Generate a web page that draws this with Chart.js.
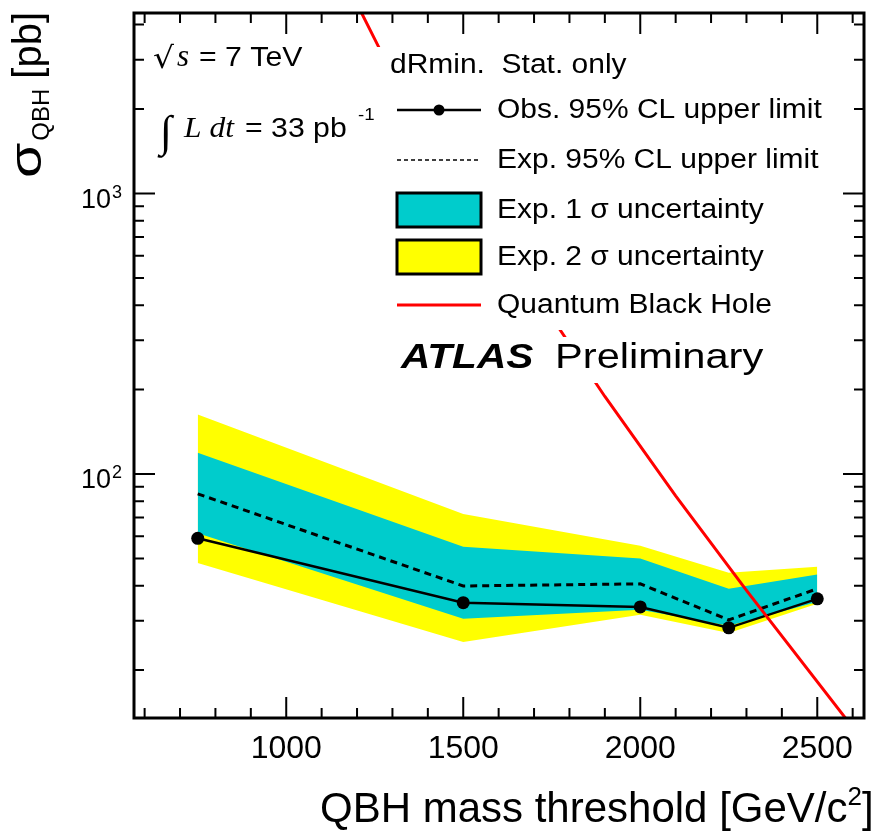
<!DOCTYPE html>
<html>
<head>
<meta charset="utf-8">
<script src="https://cdn.jsdelivr.net/npm/chart.js@4.4.1/dist/chart.umd.min.js"></script>
<style>
  html, body { margin: 0; padding: 0; background: #fff; overflow: hidden; }
</style>
</head>
<body>
<canvas id="qbhChart" width="884" height="835"></canvas>
<script>
// mass thresholds (GeV/c^2) and limits (pb)
const masses = [750, 1500, 2000, 2250, 2500];
const observed = [59, 34.8, 33.6, 28.3, 35.9];
const expected = [85, 39.9, 40.6, 30.2, 39.0];
const oneSigmaUp = [119, 55, 50, 39, 43.8];
const oneSigmaDown = [61.5, 30.5, 32.8, 28.8, 35.0];
const twoSigmaUp = [163, 72, 55.5, 44.5, 46.7];
const twoSigmaDown = [48.2, 25.2, 31.5, 27.1, 34.5];

// quantum black hole cross section
const qbhMass = [1200, 1262, 1400, 1600, 1900, 2100, 2300, 2600];
const qbhXsec = [4740, 3311, 1656, 692, 189, 83.6, 38.5, 12.5];

const xTickLabels = [1000, 1500, 2000, 2500];
const yDecadeLabels = [100, 1000];

const X_MIN = 570, X_MAX = 2632;
const Y_MIN = 13.5, Y_MAX = 4400;

const pts = ys => masses.map((m, i) => ({ x: m, y: ys[i] }));

const FONT = '"Liberation Sans", Arial, Helvetica, sans-serif';
const SERIF = '"Liberation Serif", "Times New Roman", serif';

// draws text stretched horizontally, returns drawn width
function txt(ctx, s, x, y, font, stretch = 1) {
    ctx.save();
    ctx.font = font;
    ctx.translate(x, y);
    ctx.scale(stretch, 1);
    ctx.fillText(s, 0, 0);
    const w = ctx.measureText(s).width * stretch;
    ctx.restore();
    return w;
}

const atlasDecor = {
    id: 'atlasDecor',
    afterDatasetsDraw(chart) {
        const { ctx, chartArea: a, scales: { x, y } } = chart;
        ctx.save();

        // legend and label backgrounds hide the theory curve
        ctx.fillStyle = '#fff';
        ctx.fillRect(372, 47, 470, 283);
        ctx.fillRect(395, 337, 380, 46);

        // ticks (inward, all four sides)
        ctx.strokeStyle = '#000';
        ctx.lineWidth = 2;
        ctx.beginPath();
        for (let v = 600; v <= X_MAX; v += 100) {
            const px = x.getPixelForValue(v);
            const len = v % 500 === 0 ? 21 : 10;
            ctx.moveTo(px, a.bottom); ctx.lineTo(px, a.bottom - len);
            ctx.moveTo(px, a.top); ctx.lineTo(px, a.top + len);
        }
        for (let dec = 10; dec <= 1000; dec *= 10) {
            for (let k = 1; k <= 9; k++) {
                const v = dec * k;
                if (v < Y_MIN || v > Y_MAX) continue;
                const py = y.getPixelForValue(v);
                const len = k === 1 ? 21 : 10;
                ctx.moveTo(a.left, py); ctx.lineTo(a.left + len, py);
                ctx.moveTo(a.right, py); ctx.lineTo(a.right - len, py);
            }
        }
        ctx.stroke();

        // frame
        ctx.lineWidth = 3;
        ctx.strokeRect(a.left, a.top, a.right - a.left, a.bottom - a.top);

        ctx.fillStyle = '#000';
        ctx.textBaseline = 'alphabetic';
        // x tick labels
        ctx.font = '32px ' + FONT;
        ctx.textAlign = 'center';
        xTickLabels.forEach(v => ctx.fillText(String(v), x.getPixelForValue(v), 758));

        // y tick labels 10^n
        yDecadeLabels.forEach(v => {
            const py = y.getPixelForValue(v);
            const exp = Math.round(Math.log10(v));
            ctx.font = '27px ' + FONT;
            ctx.textAlign = 'right';
            ctx.fillText('10', 111, py + 14);
            ctx.font = '18px ' + FONT;
            ctx.textAlign = 'left';
            ctx.fillText(String(exp), 112, py + 4);
        });
        ctx.textAlign = 'left';

        // x title
        let tx = 320;
        tx += txt(ctx, 'QBH mass threshold [GeV/c', tx, 822, '42px ' + FONT);
        tx += txt(ctx, '2', tx, 805, '26px ' + FONT);
        txt(ctx, ']', tx, 822, '42px ' + FONT);

        // y title
        ctx.save();
        ctx.translate(41, 178);
        ctx.rotate(-Math.PI / 2);
        let ty = txt(ctx, 'σ', 0, 0, '44px ' + FONT, 1.3);
        ty += txt(ctx, 'QBH', ty + 2, 8, '24px ' + FONT) + 12;
        txt(ctx, '[pb]', ty, 0, '40px ' + FONT);
        ctx.restore();

        // energy and luminosity
        txt(ctx, '√', 153, 68, '30px "DejaVu Sans", sans-serif', 1.1);
        txt(ctx, 's', 177, 66, 'italic 31px ' + SERIF);
        txt(ctx, '= 7 TeV', 199, 66, '27px ' + FONT, 1.12);

        txt(ctx, '∫', 160, 146, '44px ' + SERIF);
        txt(ctx, 'L dt', 184, 137, 'italic 30px ' + SERIF, 1.05);
        txt(ctx, '= 33 pb', 245, 137, '27px ' + FONT, 1.12);
        txt(ctx, '-1', 358, 120, '17px ' + FONT, 1.1);

        // legend
        const lx0 = 397, lx1 = 481, ltx = 497;
        const LF = '27px ' + FONT, LS = 1.11;
        ctx.textBaseline = 'middle';
        txt(ctx, 'dRmin.  Stat. only', 390, 66, LF, LS);

        const rows = [110, 160, 210, 257, 305];
        const labels = ['Obs. 95% CL upper limit', 'Exp. 95% CL upper limit',
            'Exp. 1 σ uncertainty', 'Exp. 2 σ uncertainty', 'Quantum Black Hole'];
        labels.forEach((t, i) => txt(ctx, t, ltx, rows[i] + 1, LF, LS));

        ctx.lineWidth = 2.5;
        ctx.beginPath(); ctx.moveTo(lx0, rows[0]); ctx.lineTo(lx1, rows[0]); ctx.stroke();
        ctx.beginPath(); ctx.arc((lx0 + lx1) / 2, rows[0], 5.5, 0, Math.PI * 2); ctx.fill();

        ctx.lineWidth = 1.5;
        ctx.setLineDash([4, 3]);
        ctx.beginPath(); ctx.moveTo(lx0, rows[1]); ctx.lineTo(lx1, rows[1]); ctx.stroke();
        ctx.setLineDash([]);

        ctx.lineWidth = 3;
        [['#00cccc', rows[2]], ['#ffff00', rows[3]]].forEach(([c, cy]) => {
            ctx.fillStyle = c;
            ctx.fillRect(lx0, cy - 17, lx1 - lx0, 34);
            ctx.strokeRect(lx0, cy - 17, lx1 - lx0, 34);
        });

        ctx.strokeStyle = '#ff0000';
        ctx.lineWidth = 3;
        ctx.beginPath(); ctx.moveTo(lx0, rows[4]); ctx.lineTo(lx1, rows[4]); ctx.stroke();

        // ATLAS Preliminary
        ctx.fillStyle = '#000';
        txt(ctx, 'ATLAS', 401, 358, 'italic bold 35px ' + FONT, 1.16);
        txt(ctx, 'Preliminary', 555, 358, '35px ' + FONT, 1.19);

        ctx.restore();
    }
};

new Chart(document.getElementById('qbhChart'), {
    type: 'line',
    data: {
        datasets: [
            { label: 'Exp. 2 σ up', data: pts(twoSigmaUp), borderWidth: 0, pointRadius: 0,
              backgroundColor: '#ffff00', fill: { target: 1 }, order: 7 },
            { label: 'Exp. 2 σ down', data: pts(twoSigmaDown), borderWidth: 0, pointRadius: 0,
              fill: false, order: 8 },
            { label: 'Exp. 1 σ up', data: pts(oneSigmaUp), borderWidth: 0, pointRadius: 0,
              backgroundColor: '#00cccc', fill: { target: 3 }, order: 5 },
            { label: 'Exp. 1 σ down', data: pts(oneSigmaDown), borderWidth: 0, pointRadius: 0,
              fill: false, order: 6 },
            { label: 'Exp. 95% CL upper limit', data: pts(expected), borderColor: '#000',
              borderWidth: 3, borderDash: [7, 5], pointRadius: 0, fill: false, order: 3 },
            { label: 'Obs. 95% CL upper limit', data: pts(observed), borderColor: '#000',
              borderWidth: 2.5, pointRadius: 6.5, pointBackgroundColor: '#000',
              pointBorderWidth: 0, fill: false, order: 2 },
            { label: 'Quantum Black Hole', data: qbhMass.map((m, i) => ({ x: m, y: qbhXsec[i] })),
              borderColor: '#ff0000', borderWidth: 3, pointRadius: 0, fill: false, order: 1 }
        ]
    },
    options: {
        responsive: false,
        animation: false,
        layout: { padding: { left: 134, top: 13, right: 20, bottom: 117 } },
        plugins: { legend: { display: false }, tooltip: { enabled: false } },
        elements: { line: { tension: 0 } },
        scales: {
            x: { type: 'linear', min: X_MIN, max: X_MAX, display: false },
            y: { type: 'logarithmic', min: Y_MIN, max: Y_MAX, display: false }
        }
    },
    plugins: [atlasDecor]
});
</script>
</body>
</html>
